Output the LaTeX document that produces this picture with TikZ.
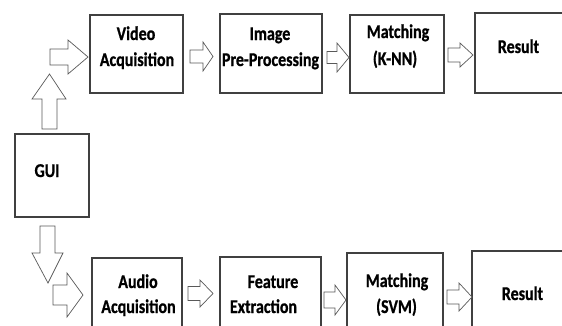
\documentclass[tikz,border=0pt]{standalone}
\usepackage{fontspec}
\setmainfont{Carlito}[FakeStretch=0.82,BoldFeatures={FakeBold=0.8}]
\begin{document}
\begin{tikzpicture}[x=1pt,y=-1pt,
  box/.style={draw=black!75,line width=1.1pt,inner sep=0pt,outer sep=0pt,anchor=north west},
  blk/.style={draw=black!65,line width=0.7pt,fill=white,line join=miter},
  txt/.style={anchor=base,inner sep=0pt,font=\fontsize{19.5}{22}\selectfont\bfseries}]
\useasboundingbox (0,0) rectangle (562,325);
% boxes
\node[box,minimum width=93pt,minimum height=78pt] (vid) at (90,15) {};
\node[box,minimum width=102pt,minimum height=79pt] (img) at (220,14) {};
\node[box,minimum width=94pt,minimum height=78pt] (knn) at (350,15) {};
\node[box,minimum width=91pt,minimum height=80pt] (res1) at (475,13) {};
\node[box,minimum width=74pt,minimum height=83pt] (gui) at (15,134) {};
\node[box,minimum width=90pt,minimum height=72pt] (aud) at (92,258) {};
\node[box,minimum width=101pt,minimum height=73pt] (feat) at (220,257) {};
\node[box,minimum width=96pt,minimum height=77pt] (svm) at (347,253) {};
\node[box,minimum width=94pt,minimum height=79pt] (res2) at (472,251) {};
% texts
\node[txt] (t1) at (136,40) {Video};
\node[txt] (t2) at (137,66) {Acquisition};
\node[txt] (t3) at (270,40) {Image};
\node[txt] (t4) at (270.5,66) {Pre-Processing};
\node[txt] (t5) at (398,38) {Matching};
\node[txt] (t6) at (395,65) {(K-NN)};
\node[txt] (t7) at (518.5,53) {Result};
\node[txt] (t8) at (47,177) {GUI};
\node[txt] (t9) at (138,288) {Audio};
\node[txt] (t10) at (138.5,313) {Acquisition};
\node[txt] (t11) at (273,288) {Feature};
\node[txt] (t12) at (263.5,313) {Extraction};
\node[txt] (t13) at (397,287) {Matching};
\node[txt] (t14) at (396.5,313) {(SVM)};
\node[txt] (t15) at (522.5,300) {Result};
% right block arrows: x1, xhead, xtip, ycentre, shaft half, head half
\newcommand\blkR[6]{\draw[blk] (#1,#4-#5) -- (#2,#4-#5) -- (#2,#4-#6) -- (#3,#4) -- (#2,#4+#6) -- (#2,#4+#5) -- (#1,#4+#5) -- cycle;}
\blkR{50}{68}{88}{57}{8}{17}
\blkR{190}{203}{213}{56.5}{6.5}{14.5}
\blkR{327}{337}{349}{57.5}{6}{14.5}
\blkR{448}{460}{473}{55}{7}{12}
\blkR{53}{67}{83}{295}{10}{22}
\blkR{188}{200}{213}{293.5}{7}{13.5}
\blkR{324}{335}{346}{300}{8}{15}
\blkR{447}{459}{472}{297}{7}{14}
% up arrow
\draw[blk] (42,129) -- (42,99) -- (32,99) -- (49.5,74) -- (66,99) -- (57,99) -- (57,129) -- cycle;
% down arrow
\draw[blk] (40,226) -- (40,253) -- (32,253) -- (48,283) -- (63,253) -- (55,253) -- (55,226) -- cycle;
\end{tikzpicture}
\end{document}
